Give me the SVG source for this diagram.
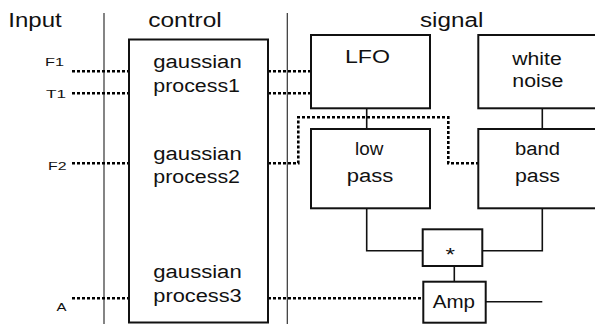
<svg xmlns="http://www.w3.org/2000/svg" width="595" height="324" viewBox="0 0 595 324">
<style>
text{font-family:"Liberation Sans",Arial,sans-serif;fill:#111}
.h{font-size:20px}
.t{font-size:18px;text-anchor:start}
.s{font-size:11px}
.box{fill:#fff;stroke:#111;stroke-width:2}
.sep{stroke:#333;stroke-width:1.2;fill:none}
.dot{stroke:#000;stroke-width:2.6;stroke-dasharray:3 2;fill:none}
.wire{stroke:#111;stroke-width:1.6;fill:none}
</style>
<rect width="595" height="324" fill="#fff"/>
<g id="headers">
<text class="h" x="8.3" y="26.7" textLength="53.4" lengthAdjust="spacingAndGlyphs">Input</text>
<text class="h" x="148.3" y="26.7" textLength="73.4" lengthAdjust="spacingAndGlyphs">control</text>
<text class="h" x="420" y="26.7" textLength="63.3" lengthAdjust="spacingAndGlyphs">signal</text>
<line class="sep" x1="104" y1="13" x2="104" y2="324"/>
<line class="sep" x1="287.3" y1="13" x2="287.3" y2="324"/>
</g>
<g id="inputs">
<text class="s" x="45" y="66" textLength="19" lengthAdjust="spacingAndGlyphs">F1</text>
<text class="s" x="46" y="97.5" textLength="20" lengthAdjust="spacingAndGlyphs">T1</text>
<text class="s" x="48" y="170" textLength="18.5" lengthAdjust="spacingAndGlyphs">F2</text>
<text class="s" x="56.5" y="310.5" textLength="10" lengthAdjust="spacingAndGlyphs">A</text>
</g>
<g id="connectors">
<path class="dot" d="M72 71.3H129M268 71.3H311"/>
<path class="dot" d="M72 93.3H129M268 93.3H311"/>
<path class="dot" d="M72 163.3H129M268 163.3H298.3V117.3H448.3V163.3H478.3"/>
<path class="dot" d="M72 298.3H129M268 298.3H423"/>
<path class="wire" d="M366.7 108.3V129"/>
<path class="wire" d="M542.3 108.3V129"/>
<path class="wire" d="M366.7 208.3V250.7H422.7"/>
<path class="wire" d="M542.3 208.3V250.7H482.3"/>
<path class="wire" d="M454.3 266V281.7"/>
<path class="wire" d="M485.7 301.7H542.3"/>
</g>
<g id="control">
<rect class="box" x="129" y="39.5" width="139" height="283"/>
<text class="t" x="153.3" y="68.3" textLength="88.4" lengthAdjust="spacingAndGlyphs">gaussian</text>
<text class="t" x="153.3" y="91.7" textLength="86.7" lengthAdjust="spacingAndGlyphs">process1</text>
<text class="t" x="153.3" y="159.5" textLength="88.4" lengthAdjust="spacingAndGlyphs">gaussian</text>
<text class="t" x="153.3" y="183.3" textLength="86.7" lengthAdjust="spacingAndGlyphs">process2</text>
<text class="t" x="153.3" y="278.3" textLength="88.4" lengthAdjust="spacingAndGlyphs">gaussian</text>
<text class="t" x="153.3" y="301.7" textLength="88.4" lengthAdjust="spacingAndGlyphs">process3</text>
</g>
<g id="lfo">
<rect class="box" x="311" y="35" width="119" height="73.3"/>
<text class="t" x="345" y="63.3" textLength="45" lengthAdjust="spacingAndGlyphs">LFO</text>
</g>
<g id="white-noise">
<rect class="box" x="478.3" y="35" width="118" height="73.3"/>
<text class="t" x="512.3" y="64.5" textLength="49.4" lengthAdjust="spacingAndGlyphs">white</text>
<text class="t" x="512.3" y="87" textLength="51" lengthAdjust="spacingAndGlyphs">noise</text>
</g>
<g id="low-pass">
<rect class="box" x="311" y="129" width="119" height="79.3"/>
<text class="t" x="355" y="155" textLength="28.3" lengthAdjust="spacingAndGlyphs">low</text>
<text class="t" x="346.7" y="181.7" textLength="46.6" lengthAdjust="spacingAndGlyphs">pass</text>
</g>
<g id="band-pass">
<rect class="box" x="478.3" y="129" width="118" height="79.3"/>
<text class="t" x="515" y="155" textLength="45" lengthAdjust="spacingAndGlyphs">band</text>
<text class="t" x="515" y="181.7" textLength="45" lengthAdjust="spacingAndGlyphs">pass</text>
</g>
<g id="multiply">
<rect class="box" x="422.7" y="229.3" width="59.6" height="36.7"/>
<text class="t" x="445.5" y="261" textLength="9.5" lengthAdjust="spacingAndGlyphs">*</text>
</g>
<g id="amp">
<rect class="box" x="423.3" y="281.7" width="62.4" height="41"/>
<text class="t" x="432.7" y="308.3" textLength="42.3" lengthAdjust="spacingAndGlyphs">Amp</text>
</g>
</svg>
